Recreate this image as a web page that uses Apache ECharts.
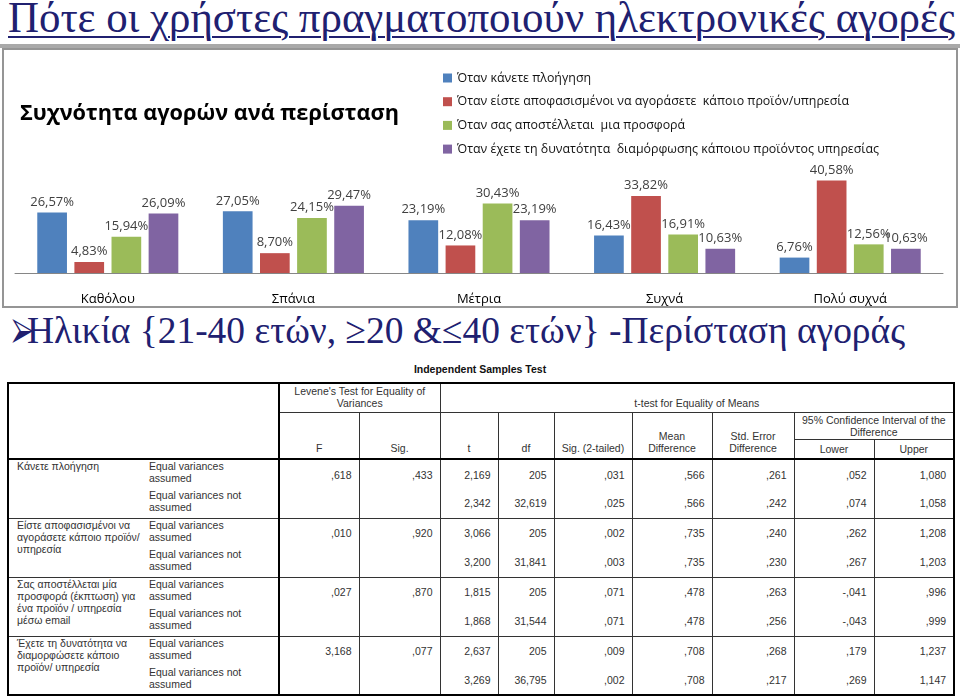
<!DOCTYPE html>
<html lang="el">
<head>
<meta charset="utf-8">
<title>Πότε οι χρήστες πραγματοποιούν ηλεκτρονικές αγορές</title>
<script src="https://cdn.jsdelivr.net/npm/echarts@6.0.0/dist/echarts.min.js"></script>
<style>
html,body{margin:0;padding:0;background:#fff;}
body{position:relative;width:960px;height:697px;overflow:hidden;}
.abs{position:absolute;}
#title{left:8px;top:-4px;font-family:'Liberation Serif','DejaVu Serif',serif;font-size:44px;line-height:44px;color:#202070;text-decoration:underline;text-decoration-thickness:2px;text-underline-offset:4px;white-space:nowrap;transform-origin:0 0;}
#rule{left:0;top:44px;width:960px;height:4px;background:#a9a9a9;}
#frame{left:2px;top:48px;width:956px;height:260px;border:2px solid #959595;box-sizing:border-box;background:#fff;}
#chart{left:4px;top:50px;width:952px;height:256px;}
#arrow{left:12px;top:314px;font-family:'DejaVu Sans',sans-serif;font-size:30px;line-height:30px;color:#202070;}
#bullet{left:27px;top:311px;font-family:'Liberation Serif','DejaVu Serif',serif;font-size:38px;line-height:38px;color:#202070;white-space:nowrap;transform-origin:0 0;}
#tt{left:0;width:960px;top:362px;text-align:center;font:bold 10.5px/14px 'Liberation Sans',Arial,sans-serif;color:#111;}
#tbl{position:absolute;left:7px;top:382px;border-collapse:collapse;table-layout:fixed;width:946px;border:2px solid #000;font:10.5px/12px 'Liberation Sans',Arial,sans-serif;color:#333;}
#tbl td{border:1px solid #333;padding:0;overflow:hidden;white-space:nowrap;}
#tbl td.hc{text-align:center;}
#tbl td.vt{vertical-align:top;padding-top:0;}
#tbl td.vb{vertical-align:bottom;padding-bottom:4px;}
#tbl td.vm{vertical-align:middle;}
#tbl td.tr{border-right:2px solid #000;}
#tbl td.tb{border-bottom:2px solid #000;}
#tbl td.lab{vertical-align:top;padding:0 0 0 8px;border-right:0;}
#tbl td.eq{vertical-align:top;padding:0 0 0 3px;border-left:0;border-right:2px solid #000;}
#tbl td.num{text-align:right;padding-right:7px;vertical-align:middle;}
#tbl td.s1{border-bottom:0;}
#tbl td.s2{border-top:0;}
</style>
</head>
<body>
<div id="title" class="abs"></div>
<div id="rule" class="abs"></div>
<div id="frame" class="abs"></div>
<div id="chart" class="abs"></div>
<div id="bullet" class="abs"></div>
<div id="arrow" class="abs">⮚</div>
<div id="tt" class="abs"></div>
<table id="tbl"></table>
<script>
// ---------- texts ----------
const slideTitle = 'Πότε οι χρήστες πραγματοποιούν ηλεκτρονικές αγορές';
const bulletText = 'Ηλικία {21-40 ετών, ≥20 &≤40 ετών} -Περίσταση αγοράς';
const chartTitle = 'Συχνότητα αγορών ανά περίσταση';
const tableTitle = 'Independent Samples Test';

// ---------- chart data ----------
const categories = ['Καθόλου', 'Σπάνια', 'Μέτρια', 'Συχνά', 'Πολύ συχνά'];
const seriesNames = [
  'Όταν κάνετε πλοήγηση',
  'Όταν είστε αποφασισμένοι να αγοράσετε  κάποιο προϊόν/υπηρεσία',
  'Όταν σας αποστέλλεται  μια προσφορά',
  'Όταν έχετε τη δυνατότητα  διαμόρφωσης κάποιου προϊόντος υπηρεσίας'
];
const browsing  = [26.57, 27.05, 23.19, 16.43, 6.76];
const decided   = [4.83, 8.70, 12.08, 33.82, 40.58];
const offer     = [15.94, 24.15, 30.43, 16.91, 12.56];
const customize = [26.09, 29.47, 23.19, 10.63, 10.63];
const seriesColors = ['#4F81BD', '#C0504D', '#9BBB59', '#8064A2'];

// ---------- table data ----------
const groupLabels = [
  ['Κάνετε πλοήγηση'],
  ['Είστε αποφασισμένοι να', 'αγοράσετε κάποιο προϊόν/', 'υπηρεσία'],
  ['Σας αποστέλλεται μία', 'προσφορά (έκπτωση) για', 'ένα προϊόν / υπηρεσία', 'μέσω email'],
  ['Έχετε τη δυνατότητα να', 'διαμορφώσετε κάποιο', 'προϊόν/ υπηρεσία']
];
const varianceLabels = [['Equal variances', 'assumed'], ['Equal variances not', 'assumed']];
const leveneF   = [',618', ',010', ',027', '3,168'];
const leveneSig = [',433', ',920', ',870', ',077'];
const tVals    = ['2,169', '2,342', '3,066', '3,200', '1,815', '1,868', '2,637', '3,269'];
const dfVals   = ['205', '32,619', '205', '31,841', '205', '31,544', '205', '36,795'];
const sig2Vals = [',031', ',025', ',002', ',003', ',071', ',071', ',009', ',002'];
const meanDiff = [',566', ',566', ',735', ',735', ',478', ',478', ',708', ',708'];
const seDiff   = [',261', ',242', ',240', ',230', ',263', ',256', ',268', ',217'];
const ciLower  = [',052', ',074', ',262', ',267', '-,041', '-,043', ',179', ',269'];
const ciUpper  = ['1,080', '1,058', '1,208', '1,203', ',996', ',999', '1,237', '1,147'];
const headLevene = ["Levene's Test for Equality of", 'Variances'];
const headTtest = 't-test for Equality of Means';
const headCols = [['F'], ['Sig.'], ['t'], ['df'], ['Sig. (2-tailed)'], ['Mean', 'Difference'], ['Std. Error', 'Difference']];
const headCI = ['95% Confidence Interval of the', 'Difference'];
const headCI2 = ['Lower', 'Upper'];

// ---------- slide texts ----------
function fit(el, target) {
  const w = el.getBoundingClientRect().width;
  if (w > 0) el.style.transform = 'scaleX(' + (target / w) + ')';
}
const tEl = document.getElementById('title');
tEl.textContent = slideTitle;
fit(tEl, 947);
const bEl = document.getElementById('bullet');
bEl.textContent = bulletText;
fit(bEl, 878);
document.getElementById('tt').textContent = tableTitle;

// ---------- table ----------
const colWidths = [138, 133, 80, 81, 58, 56, 78, 80, 82, 80, 80];
const bodyRowH = [30, 29, 30, 29, 30, 29, 30, 29];
let h = '<colgroup>' + colWidths.map(w => '<col style="width:' + w + 'px">').join('') + '</colgroup>';
h += '<tr style="height:29px"><td colspan="2" rowspan="3" class="tr tb"></td>' +
     '<td colspan="2" class="hc vt" style="padding-top:1px">' + headLevene.join('<br>') + '</td>' +
     '<td colspan="7" class="hc vb" style="padding-bottom:3px">' + headTtest + '</td></tr>';
h += '<tr style="height:27px">' +
     headCols.map(c => '<td rowspan="2" class="hc vb tb">' + c.join('<br>') + '</td>').join('') +
     '<td colspan="2" class="hc vm">' + headCI.join('<br>') + '</td></tr>';
h += '<tr style="height:20px">' + headCI2.map(c => '<td class="hc vm tb">' + c + '</td>').join('') + '</tr>';
for (let g = 0; g < groupLabels.length; g++) {
  for (let s = 0; s < 2; s++) {
    const i = g * 2 + s;
    const sc = s === 0 ? 's1' : 's2';
    h += '<tr style="height:' + bodyRowH[i] + 'px">';
    if (s === 0) h += '<td rowspan="2" class="lab">' + groupLabels[g].join('<br>') + '</td>';
    h += '<td class="eq ' + sc + '">' + varianceLabels[s].join('<br>') + '</td>';
    h += '<td class="num ' + sc + '">' + (s === 0 ? leveneF[g] : '') + '</td>';
    h += '<td class="num ' + sc + '">' + (s === 0 ? leveneSig[g] : '') + '</td>';
    [tVals, dfVals, sig2Vals, meanDiff, seDiff, ciLower, ciUpper].forEach(arr => {
      h += '<td class="num ' + sc + '">' + arr[i] + '</td>';
    });
    h += '</tr>';
  }
}
document.getElementById('tbl').innerHTML = h;

// ---------- chart ----------
const fmt = v => v.toFixed(2).replace('.', ',') + '%';
const values = [browsing, decided, offer, customize];
const chart = echarts.init(document.getElementById('chart'), null, { renderer: 'canvas' });
chart.setOption({
  animation: false,
  textStyle: { fontFamily: "'Open Sans', 'Noto Sans', sans-serif" },
  title: {
    text: chartTitle, left: 11, top: 48,
    textStyle: { fontSize: 21.7, fontWeight: 'bold', color: '#000', fontFamily: "'Open Sans', 'Noto Sans', sans-serif" }
  },
  legend: {
    orient: 'vertical', left: 434, top: 16,
    itemWidth: 9, itemHeight: 9, itemGap: 9.7, icon: 'rect',
    selectedMode: false,
    textStyle: { fontSize: 12.4, color: '#111', lineHeight: 14 },
    data: seriesNames
  },
  grid: { left: 11, right: 13, top: 109, bottom: 32 },
  xAxis: {
    type: 'category', data: categories,
    axisLine: { lineStyle: { color: '#868686', width: 1 } },
    axisTick: { show: false },
    axisLabel: { fontSize: 13, color: '#000', margin: 20 }
  },
  yAxis: { type: 'value', min: 0, max: 50, show: false, splitLine: { show: false } },
  series: seriesNames.map((n, k) => ({
    name: n, type: 'bar', data: values[k],
    barGap: '25%', barCategoryGap: '24%',
    itemStyle: { color: seriesColors[k] },
    label: { show: true, position: 'top', distance: 4, fontSize: 13, color: '#404040', formatter: p => fmt(p.value) }
  }))
});
</script>
</body>
</html>
